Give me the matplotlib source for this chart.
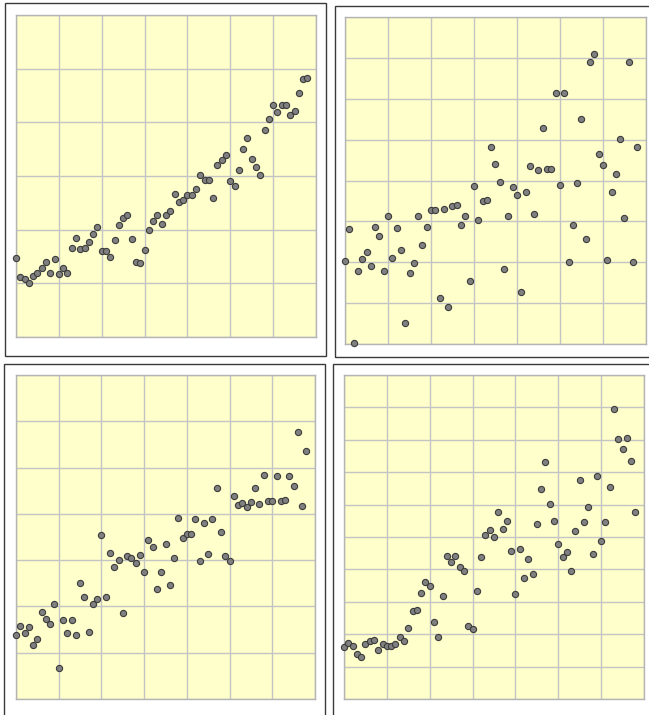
import matplotlib.pyplot as plt
from matplotlib.patches import Rectangle
from matplotlib.ticker import MultipleLocator
import numpy as np

# four noisy upward series, 69 samples each, sampled every 0.1 on x
series_a = [1.47, 1.12, 1.08, 1.01, 1.14, 1.20, 1.28, 1.40, 1.20, 1.46,
            1.18, 1.28, 1.20, 1.66, 1.85, 1.64, 1.65, 1.77, 1.92, 2.05,
            1.61, 1.61, 1.50, 1.80, 2.08, 2.21, 2.27, 1.82, 1.40, 1.38,
            1.63, 1.99, 2.16, 2.27, 2.10, 2.28, 2.35, 2.67, 2.51, 2.56,
            2.64, 2.64, 2.76, 3.01, 2.93, 2.93, 2.59, 3.20, 3.29, 3.39,
            2.90, 2.82, 3.11, 3.50, 3.71, 3.31, 3.17, 3.01, 3.86, 4.06,
            4.33, 4.19, 4.33, 4.33, 4.14, 4.22, 4.55, 4.81, 4.82]

series_b = [2.03, 2.82, 0.02, 1.78, 2.09, 2.24, 1.91, 2.86, 2.63, 1.78,
            3.12, 2.11, 2.83, 2.29, 0.52, 1.74, 1.97, 3.14, 2.42, 2.86,
            3.29, 3.29, 1.12, 3.31, 0.90, 3.37, 3.40, 2.90, 3.13, 1.53,
            3.87, 3.04, 3.49, 3.52, 4.82, 4.41, 3.96, 1.83, 3.12, 3.83,
            3.64, 1.27, 3.72, 4.35, 3.17, 4.26, 5.28, 4.29, 4.29, 6.15,
            3.89, 6.15, 2.01, 2.90, 3.93, 5.51, 2.57, 6.89, 7.09, 4.66,
            4.39, 2.06, 3.71, 4.16, 5.01, 3.09, 6.89, 2.01, 4.81]

series_c = [1.38, 1.58, 1.42, 1.56, 1.16, 1.30, 1.87, 1.73, 1.63, 2.06,
            0.66, 1.71, 1.43, 1.71, 1.38, 2.50, 2.20, 1.45, 2.06, 2.15,
            3.54, 2.20, 3.15, 2.86, 3.00, 1.86, 3.10, 3.05, 2.94, 3.12,
            2.75, 3.43, 3.28, 2.38, 2.74, 3.35, 2.46, 3.05, 3.91, 3.48,
            3.56, 3.56, 3.89, 2.99, 3.80, 3.14, 3.89, 4.56, 3.61, 3.10,
            2.99, 4.38, 4.20, 4.24, 4.15, 4.25, 4.55, 4.22, 4.84, 4.27,
            4.27, 4.82, 4.27, 4.29, 4.82, 4.60, 5.77, 4.18, 5.36]

series_d = [1.62, 1.73, 1.64, 1.40, 1.30, 1.69, 1.78, 1.81, 1.50, 1.71,
            1.64, 1.64, 1.71, 1.91, 1.78, 2.18, 2.73, 2.76, 3.28, 3.62,
            3.49, 2.37, 1.90, 3.17, 4.42, 4.22, 4.42, 4.06, 3.95, 2.26,
            2.16, 3.33, 4.39, 5.07, 5.22, 5.00, 5.78, 5.26, 5.49, 4.56,
            3.25, 4.63, 3.74, 4.32, 3.86, 5.40, 6.49, 7.33, 6.02, 5.49,
            4.77, 4.37, 4.53, 3.96, 5.19, 6.75, 5.45, 5.94, 4.49, 6.88,
            4.88, 5.47, 6.54, 8.94, 8.02, 7.72, 8.06, 7.36, 5.76]

W, H = 649, 715

fig = plt.figure(figsize=(W / 100, H / 100), dpi=100)


def px_rect(x0, y0, x1, y1):
    # pixel box (top-left origin) -> figure fraction [left, bottom, width, height]
    return [x0 / W, 1 - y1 / H, (x1 - x0) / W, (y1 - y0) / H]


def frame(x0, y0, x1, y1):
    l, b, w, h = px_rect(x0, y0, x1, y1)
    fig.add_artist(Rectangle((l, b), w, h, transform=fig.transFigure,
                             fill=False, edgecolor="#3a3a3a", linewidth=1.0))


def panel(box, values, ytop):
    ax = fig.add_axes(px_rect(*box))
    x = np.arange(len(values)) / 10
    ax.set_facecolor("#ffffcc")
    ax.set_xlim(0, 7)
    ax.set_ylim(0, ytop)
    ax.xaxis.set_major_locator(MultipleLocator(1))
    ax.yaxis.set_major_locator(MultipleLocator(1))
    ax.grid(True, color="#c4c4c4", linewidth=1.0)
    ax.set_axisbelow(True)
    ax.tick_params(length=0, labelbottom=False, labelleft=False)
    for s in ax.spines.values():
        s.set_color("#b4b4b4")
        s.set_linewidth(1.0)
    ax.scatter(x, values, s=20, c="#808080", edgecolors="#3c3c3c",
               linewidths=0.8, zorder=3, clip_on=False)
    return ax


# outer frames around each panel
frame(5, 3, 326, 356)
frame(335, 6, 660, 357)
frame(4, 364, 325, 725)
frame(333, 364, 660, 725)

panel((16, 15, 316, 337), series_a, 6)
panel((345, 17, 646, 344), series_b, 8)
panel((16, 375, 315, 699), series_c, 7)
panel((344, 375, 644, 699), series_d, 10)

fig.savefig("out.png", dpi=100)
